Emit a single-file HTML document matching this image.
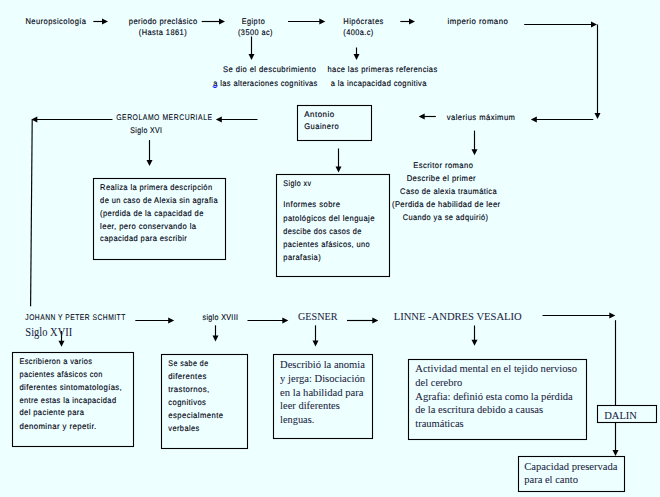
<!DOCTYPE html><html><head><meta charset="utf-8"><style>html,body{margin:0;padding:0;background:#edffff;}svg{display:block;}</style></head><body>
<svg width="660" height="497" viewBox="0 0 660 497">
<rect x="0" y="0" width="660" height="497" fill="#edffff"/>
<rect x="297.5" y="105.5" width="74" height="35" fill="none" stroke="#000000" stroke-width="1.10"/>
<rect x="93.5" y="178.5" width="132" height="81" fill="none" stroke="#000000" stroke-width="1.10"/>
<rect x="276.5" y="174.5" width="113" height="102" fill="none" stroke="#000000" stroke-width="1.10"/>
<rect x="12.5" y="352.5" width="121" height="94" fill="none" stroke="#000000" stroke-width="1.10"/>
<rect x="161.5" y="354.5" width="86" height="94" fill="none" stroke="#000000" stroke-width="1.10"/>
<rect x="273.5" y="354.5" width="99" height="84" fill="none" stroke="#000000" stroke-width="1.10"/>
<rect x="408.5" y="359.5" width="178" height="80" fill="none" stroke="#000000" stroke-width="1.10"/>
<rect x="597.5" y="405.5" width="59" height="17" fill="none" stroke="#000000" stroke-width="1.10"/>
<rect x="518.5" y="456.5" width="106" height="35" fill="none" stroke="#000000" stroke-width="1.10"/>
<line x1="93.30" y1="21.50" x2="103.00" y2="21.50" stroke="#000000" stroke-width="1.15"/>
<polygon points="108.00,21.50 102.00,24.50 102.00,18.50" fill="#000000"/>
<line x1="201.70" y1="21.50" x2="220.00" y2="21.50" stroke="#000000" stroke-width="1.15"/>
<polygon points="225.00,21.50 219.00,24.50 219.00,18.50" fill="#000000"/>
<line x1="288.00" y1="21.50" x2="320.30" y2="21.50" stroke="#000000" stroke-width="1.15"/>
<polygon points="325.30,21.50 319.30,24.50 319.30,18.50" fill="#000000"/>
<line x1="400.30" y1="21.50" x2="410.00" y2="21.50" stroke="#000000" stroke-width="1.15"/>
<polygon points="415.00,21.50 409.00,24.50 409.00,18.50" fill="#000000"/>
<line x1="524.20" y1="24.50" x2="592.00" y2="24.50" stroke="#000000" stroke-width="1.15"/>
<polygon points="597.00,24.50 591.00,27.50 591.00,21.50" fill="#000000"/>
<line x1="597.50" y1="24.50" x2="597.50" y2="114.00" stroke="#000000" stroke-width="1.15"/>
<polygon points="597.50,119.00 594.50,113.00 600.50,113.00" fill="#000000"/>
<line x1="593.30" y1="119.50" x2="535.80" y2="119.50" stroke="#000000" stroke-width="1.15"/>
<polygon points="530.80,119.50 536.80,116.50 536.80,122.50" fill="#000000"/>
<line x1="435.80" y1="116.50" x2="423.70" y2="116.50" stroke="#000000" stroke-width="1.15"/>
<polygon points="418.70,116.50 424.70,113.50 424.70,119.50" fill="#000000"/>
<line x1="257.50" y1="119.50" x2="220.80" y2="119.50" stroke="#000000" stroke-width="1.15"/>
<polygon points="215.80,119.50 221.80,116.50 221.80,122.50" fill="#000000"/>
<line x1="112.50" y1="119.50" x2="36.30" y2="119.50" stroke="#000000" stroke-width="1.15"/>
<polygon points="31.30,119.50 37.30,116.50 37.30,122.50" fill="#000000"/>
<line x1="251.50" y1="36.50" x2="251.50" y2="55.00" stroke="#000000" stroke-width="1.15"/>
<polygon points="251.50,60.00 248.50,54.00 254.50,54.00" fill="#000000"/>
<line x1="356.50" y1="47.50" x2="356.50" y2="55.10" stroke="#000000" stroke-width="1.15"/>
<polygon points="356.50,60.10 353.50,54.10 359.50,54.10" fill="#000000"/>
<line x1="149.50" y1="140.10" x2="149.50" y2="161.00" stroke="#000000" stroke-width="1.15"/>
<polygon points="149.50,166.00 146.50,160.00 152.50,160.00" fill="#000000"/>
<line x1="338.50" y1="148.50" x2="338.50" y2="167.50" stroke="#000000" stroke-width="1.15"/>
<polygon points="338.50,172.50 335.50,166.50 341.50,166.50" fill="#000000"/>
<line x1="474.50" y1="130.60" x2="474.50" y2="150.20" stroke="#000000" stroke-width="1.15"/>
<polygon points="474.50,155.20 471.50,149.20 477.50,149.20" fill="#000000"/>
<line x1="135.30" y1="320.50" x2="169.20" y2="320.50" stroke="#000000" stroke-width="1.15"/>
<polygon points="174.20,320.50 168.20,323.50 168.20,317.50" fill="#000000"/>
<line x1="247.50" y1="320.50" x2="283.30" y2="320.50" stroke="#000000" stroke-width="1.15"/>
<polygon points="288.30,320.50 282.30,323.50 282.30,317.50" fill="#000000"/>
<line x1="347.00" y1="320.50" x2="373.30" y2="320.50" stroke="#000000" stroke-width="1.15"/>
<polygon points="378.30,320.50 372.30,323.50 372.30,317.50" fill="#000000"/>
<line x1="542.50" y1="315.50" x2="610.30" y2="315.50" stroke="#000000" stroke-width="1.15"/>
<polygon points="615.30,315.50 609.30,318.50 609.30,312.50" fill="#000000"/>
<line x1="61.50" y1="331.00" x2="61.50" y2="341.70" stroke="#000000" stroke-width="1.15"/>
<polygon points="61.50,346.70 58.50,340.70 64.50,340.70" fill="#000000"/>
<line x1="215.50" y1="325.30" x2="215.50" y2="336.50" stroke="#000000" stroke-width="1.15"/>
<polygon points="215.50,341.50 212.50,335.50 218.50,335.50" fill="#000000"/>
<line x1="315.50" y1="325.30" x2="315.50" y2="341.50" stroke="#000000" stroke-width="1.15"/>
<polygon points="315.50,346.50 312.50,340.50 318.50,340.50" fill="#000000"/>
<line x1="474.50" y1="325.50" x2="474.50" y2="340.80" stroke="#000000" stroke-width="1.15"/>
<polygon points="474.50,345.80 471.50,339.80 477.50,339.80" fill="#000000"/>
<line x1="615.50" y1="320.20" x2="615.50" y2="405.70" stroke="#000000" stroke-width="1.15"/>
<line x1="615.50" y1="422.30" x2="615.50" y2="451.00" stroke="#000000" stroke-width="1.15"/>
<polygon points="615.50,456.00 612.50,450.00 618.50,450.00" fill="#000000"/>
<line x1="32.2" y1="119.4" x2="30.6" y2="306.3" stroke="#000000" stroke-width="1.15"/>
<text transform="translate(25.50 24.00) scale(0.919 1)" x="0" y="0" textLength="65.84" lengthAdjust="spacing" text-rendering="geometricPrecision" font-family="Liberation Sans, sans-serif" font-size="8.20" fill="#000010" stroke="#000010" stroke-width="0.13">Neuropsicología</text>
<text transform="translate(128.80 24.00) scale(0.925 1)" x="0" y="0" textLength="73.94" lengthAdjust="spacing" text-rendering="geometricPrecision" font-family="Liberation Sans, sans-serif" font-size="8.20" fill="#000010" stroke="#000010" stroke-width="0.13">periodo preclásico</text>
<text transform="translate(138.80 34.50) scale(0.909 1)" x="0" y="0" textLength="52.67" lengthAdjust="spacing" text-rendering="geometricPrecision" font-family="Liberation Sans, sans-serif" font-size="8.20" fill="#000010" stroke="#000010" stroke-width="0.13">(Hasta 1861)</text>
<text transform="translate(241.70 24.00) scale(0.890 1)" x="0" y="0" textLength="25.83" lengthAdjust="spacing" text-rendering="geometricPrecision" font-family="Liberation Sans, sans-serif" font-size="8.20" fill="#000010" stroke="#000010" stroke-width="0.13">Egipto</text>
<text transform="translate(238.00 34.50) scale(0.896 1)" x="0" y="0" textLength="38.49" lengthAdjust="spacing" text-rendering="geometricPrecision" font-family="Liberation Sans, sans-serif" font-size="8.20" fill="#000010" stroke="#000010" stroke-width="0.13">(3500 ac)</text>
<text transform="translate(343.30 24.00) scale(0.918 1)" x="0" y="0" textLength="43.55" lengthAdjust="spacing" text-rendering="geometricPrecision" font-family="Liberation Sans, sans-serif" font-size="8.20" fill="#000010" stroke="#000010" stroke-width="0.13">Hipócrates</text>
<text transform="translate(343.30 34.50) scale(0.898 1)" x="0" y="0" textLength="33.42" lengthAdjust="spacing" text-rendering="geometricPrecision" font-family="Liberation Sans, sans-serif" font-size="8.20" fill="#000010" stroke="#000010" stroke-width="0.13">(400a.c)</text>
<text transform="translate(447.50 24.00) scale(0.953 1)" x="0" y="0" textLength="63.30" lengthAdjust="spacing" text-rendering="geometricPrecision" font-family="Liberation Sans, sans-serif" font-size="8.20" fill="#000010" stroke="#000010" stroke-width="0.13">imperio romano</text>
<text transform="translate(223.10 72.00) scale(0.930 1)" x="0" y="0" textLength="99.77" lengthAdjust="spacing" text-rendering="geometricPrecision" font-family="Liberation Sans, sans-serif" font-size="8.20" fill="#000010" stroke="#000010" stroke-width="0.13">Se dio el descubrimiento</text>
<text transform="translate(213.30 85.70) scale(0.913 1)" x="0" y="0" textLength="113.95" lengthAdjust="spacing" text-rendering="geometricPrecision" font-family="Liberation Sans, sans-serif" font-size="8.20" fill="#000010" stroke="#000010" stroke-width="0.13">a las alteraciones cognitivas</text>
<text transform="translate(327.50 72.00) scale(0.918 1)" x="0" y="0" textLength="119.51" lengthAdjust="spacing" text-rendering="geometricPrecision" font-family="Liberation Sans, sans-serif" font-size="8.20" fill="#000010" stroke="#000010" stroke-width="0.13">hace las primeras referencias</text>
<text transform="translate(330.80 85.70) scale(0.916 1)" x="0" y="0" textLength="104.34" lengthAdjust="spacing" text-rendering="geometricPrecision" font-family="Liberation Sans, sans-serif" font-size="8.20" fill="#000010" stroke="#000010" stroke-width="0.13">a la incapacidad cognitiva</text>
<text transform="translate(446.70 119.80) scale(0.930 1)" x="0" y="0" textLength="73.41" lengthAdjust="spacing" text-rendering="geometricPrecision" font-family="Liberation Sans, sans-serif" font-size="8.20" fill="#000010" stroke="#000010" stroke-width="0.13">valerius máximum</text>
<text transform="translate(304.20 116.80) scale(0.971 1)" x="0" y="0" textLength="30.90" lengthAdjust="spacing" text-rendering="geometricPrecision" font-family="Liberation Sans, sans-serif" font-size="8.20" fill="#000010" stroke="#000010" stroke-width="0.13">Antonio</text>
<text transform="translate(304.20 129.30) scale(0.920 1)" x="0" y="0" textLength="37.48" lengthAdjust="spacing" text-rendering="geometricPrecision" font-family="Liberation Sans, sans-serif" font-size="8.20" fill="#000010" stroke="#000010" stroke-width="0.13">Guainero</text>
<text transform="translate(116.20 119.80) scale(0.834 1)" x="0" y="0" textLength="114.92" lengthAdjust="spacing" text-rendering="geometricPrecision" font-family="Liberation Sans, sans-serif" font-size="8.20" fill="#000010" stroke="#000010" stroke-width="0.07">GEROLAMO MERCURIALE</text>
<text transform="translate(130.30 133.20) scale(0.846 1)" x="0" y="0" textLength="37.48" lengthAdjust="spacing" text-rendering="geometricPrecision" font-family="Liberation Sans, sans-serif" font-size="8.20" fill="#000010" stroke="#000010" stroke-width="0.13">Siglo XVI</text>
<text transform="translate(100.10 189.80) scale(0.918 1)" x="0" y="0" textLength="122.04" lengthAdjust="spacing" text-rendering="geometricPrecision" font-family="Liberation Sans, sans-serif" font-size="8.20" fill="#000010" stroke="#000010" stroke-width="0.13">Realiza la primera descripción</text>
<text transform="translate(100.10 202.50) scale(0.913 1)" x="0" y="0" textLength="128.66" lengthAdjust="spacing" text-rendering="geometricPrecision" font-family="Liberation Sans, sans-serif" font-size="8.20" fill="#000010" stroke="#000010" stroke-width="0.13">de un caso de Alexia sin agrafia</text>
<text transform="translate(100.10 215.70) scale(0.918 1)" x="0" y="0" textLength="112.45" lengthAdjust="spacing" text-rendering="geometricPrecision" font-family="Liberation Sans, sans-serif" font-size="8.20" fill="#000010" stroke="#000010" stroke-width="0.13">(perdida de la capacidad de</text>
<text transform="translate(100.10 228.70) scale(0.938 1)" x="0" y="0" textLength="102.31" lengthAdjust="spacing" text-rendering="geometricPrecision" font-family="Liberation Sans, sans-serif" font-size="8.20" fill="#000010" stroke="#000010" stroke-width="0.13">leer, pero conservando la</text>
<text transform="translate(100.10 241.40) scale(0.921 1)" x="0" y="0" textLength="94.20" lengthAdjust="spacing" text-rendering="geometricPrecision" font-family="Liberation Sans, sans-serif" font-size="8.20" fill="#000010" stroke="#000010" stroke-width="0.13">capacidad para escribir</text>
<text transform="translate(283.30 186.30) scale(0.871 1)" x="0" y="0" textLength="31.90" lengthAdjust="spacing" text-rendering="geometricPrecision" font-family="Liberation Sans, sans-serif" font-size="8.20" fill="#000010" stroke="#000010" stroke-width="0.13">Siglo xv</text>
<text transform="translate(283.30 206.80) scale(0.935 1)" x="0" y="0" textLength="60.77" lengthAdjust="spacing" text-rendering="geometricPrecision" font-family="Liberation Sans, sans-serif" font-size="8.20" fill="#000010" stroke="#000010" stroke-width="0.13">Informes sobre</text>
<text transform="translate(283.30 220.60) scale(0.932 1)" x="0" y="0" textLength="97.77" lengthAdjust="spacing" text-rendering="geometricPrecision" font-family="Liberation Sans, sans-serif" font-size="8.20" fill="#000010" stroke="#000010" stroke-width="0.13">patológicos del lenguaje</text>
<text transform="translate(283.30 233.90) scale(0.890 1)" x="0" y="0" textLength="87.62" lengthAdjust="spacing" text-rendering="geometricPrecision" font-family="Liberation Sans, sans-serif" font-size="8.20" fill="#000010" stroke="#000010" stroke-width="0.13">descibe dos casos de</text>
<text transform="translate(283.30 247.20) scale(0.908 1)" x="0" y="0" textLength="95.22" lengthAdjust="spacing" text-rendering="geometricPrecision" font-family="Liberation Sans, sans-serif" font-size="8.20" fill="#000010" stroke="#000010" stroke-width="0.13">pacientes afásicos, uno</text>
<text transform="translate(283.30 260.00) scale(0.923 1)" x="0" y="0" textLength="40.52" lengthAdjust="spacing" text-rendering="geometricPrecision" font-family="Liberation Sans, sans-serif" font-size="8.20" fill="#000010" stroke="#000010" stroke-width="0.13">parafasia)</text>
<text transform="translate(413.20 167.90) scale(0.928 1)" x="0" y="0" textLength="64.30" lengthAdjust="spacing" text-rendering="geometricPrecision" font-family="Liberation Sans, sans-serif" font-size="8.20" fill="#000010" stroke="#000010" stroke-width="0.13">Escritor romano</text>
<text transform="translate(406.70 181.00) scale(0.932 1)" x="0" y="0" textLength="73.92" lengthAdjust="spacing" text-rendering="geometricPrecision" font-family="Liberation Sans, sans-serif" font-size="8.20" fill="#000010" stroke="#000010" stroke-width="0.13">Describe el primer</text>
<text transform="translate(400.10 194.00) scale(0.917 1)" x="0" y="0" textLength="105.34" lengthAdjust="spacing" text-rendering="geometricPrecision" font-family="Liberation Sans, sans-serif" font-size="8.20" fill="#000010" stroke="#000010" stroke-width="0.13">Caso de alexia traumática</text>
<text transform="translate(392.00 206.50) scale(0.928 1)" x="0" y="0" textLength="116.50" lengthAdjust="spacing" text-rendering="geometricPrecision" font-family="Liberation Sans, sans-serif" font-size="8.20" fill="#000010" stroke="#000010" stroke-width="0.13">(Perdida de habilidad de leer</text>
<text transform="translate(402.70 219.60) scale(0.905 1)" x="0" y="0" textLength="94.21" lengthAdjust="spacing" text-rendering="geometricPrecision" font-family="Liberation Sans, sans-serif" font-size="8.20" fill="#000010" stroke="#000010" stroke-width="0.13">Cuando ya se adquirió)</text>
<text transform="translate(25.30 320.00) scale(0.822 1)" x="0" y="0" textLength="121.67" lengthAdjust="spacing" text-rendering="geometricPrecision" font-family="Liberation Sans, sans-serif" font-size="8.20" fill="#000010" stroke="#000010" stroke-width="0.07">JOHANN Y PETER SCHMITT</text>
<text transform="translate(202.50 319.70) scale(0.865 1)" x="0" y="0" textLength="41.02" lengthAdjust="spacing" text-rendering="geometricPrecision" font-family="Liberation Sans, sans-serif" font-size="8.20" fill="#000010" stroke="#000010" stroke-width="0.13">siglo XVIII</text>
<text transform="translate(19.40 363.80) scale(0.907 1)" x="0" y="0" textLength="80.01" lengthAdjust="spacing" text-rendering="geometricPrecision" font-family="Liberation Sans, sans-serif" font-size="8.20" fill="#000010" stroke="#000010" stroke-width="0.13">Escribieron a varios</text>
<text transform="translate(19.40 376.60) scale(0.900 1)" x="0" y="0" textLength="92.18" lengthAdjust="spacing" text-rendering="geometricPrecision" font-family="Liberation Sans, sans-serif" font-size="8.20" fill="#000010" stroke="#000010" stroke-width="0.13">pacientes afásicos con</text>
<text transform="translate(19.40 389.70) scale(0.940 1)" x="0" y="0" textLength="108.89" lengthAdjust="spacing" text-rendering="geometricPrecision" font-family="Liberation Sans, sans-serif" font-size="8.20" fill="#000010" stroke="#000010" stroke-width="0.13">diferentes sintomatologías,</text>
<text transform="translate(19.40 402.50) scale(0.913 1)" x="0" y="0" textLength="105.86" lengthAdjust="spacing" text-rendering="geometricPrecision" font-family="Liberation Sans, sans-serif" font-size="8.20" fill="#000010" stroke="#000010" stroke-width="0.13">entre estas la incapacidad</text>
<text transform="translate(19.40 415.40) scale(0.924 1)" x="0" y="0" textLength="69.90" lengthAdjust="spacing" text-rendering="geometricPrecision" font-family="Liberation Sans, sans-serif" font-size="8.20" fill="#000010" stroke="#000010" stroke-width="0.13">del paciente para</text>
<text transform="translate(19.40 428.60) scale(0.954 1)" x="0" y="0" textLength="80.52" lengthAdjust="spacing" text-rendering="geometricPrecision" font-family="Liberation Sans, sans-serif" font-size="8.20" fill="#000010" stroke="#000010" stroke-width="0.13">denominar y repetir.</text>
<text transform="translate(168.30 366.00) scale(0.863 1)" x="0" y="0" textLength="46.10" lengthAdjust="spacing" text-rendering="geometricPrecision" font-family="Liberation Sans, sans-serif" font-size="8.20" fill="#000010" stroke="#000010" stroke-width="0.13">Se sabe de</text>
<text transform="translate(168.30 379.30) scale(0.950 1)" x="0" y="0" textLength="40.01" lengthAdjust="spacing" text-rendering="geometricPrecision" font-family="Liberation Sans, sans-serif" font-size="8.20" fill="#000010" stroke="#000010" stroke-width="0.13">diferentes</text>
<text transform="translate(168.30 391.90) scale(0.950 1)" x="0" y="0" textLength="43.04" lengthAdjust="spacing" text-rendering="geometricPrecision" font-family="Liberation Sans, sans-serif" font-size="8.20" fill="#000010" stroke="#000010" stroke-width="0.13">trastornos,</text>
<text transform="translate(168.30 404.80) scale(0.928 1)" x="0" y="0" textLength="40.52" lengthAdjust="spacing" text-rendering="geometricPrecision" font-family="Liberation Sans, sans-serif" font-size="8.20" fill="#000010" stroke="#000010" stroke-width="0.13">cognitivos</text>
<text transform="translate(168.30 418.00) scale(0.931 1)" x="0" y="0" textLength="58.75" lengthAdjust="spacing" text-rendering="geometricPrecision" font-family="Liberation Sans, sans-serif" font-size="8.20" fill="#000010" stroke="#000010" stroke-width="0.13">especialmente</text>
<text transform="translate(168.30 430.90) scale(0.900 1)" x="0" y="0" textLength="34.44" lengthAdjust="spacing" text-rendering="geometricPrecision" font-family="Liberation Sans, sans-serif" font-size="8.20" fill="#000010" stroke="#000010" stroke-width="0.13">verbales</text>
<text x="25.30" y="335.80" textLength="46.90" lengthAdjust="spacingAndGlyphs" font-family="Liberation Serif, serif" font-size="12.06" fill="#1a2240" stroke="#1a2240" stroke-width="0.05">Siglo XVII</text>
<text x="298.00" y="319.70" textLength="39.50" lengthAdjust="spacingAndGlyphs" font-family="Liberation Serif, serif" font-size="11.34" fill="#1a2240" stroke="#1a2240" stroke-width="0.05">GESNER</text>
<text x="393.70" y="319.50" textLength="128.00" lengthAdjust="spacingAndGlyphs" font-family="Liberation Serif, serif" font-size="11.34" fill="#1a2240" stroke="#1a2240" stroke-width="0.05">LINNE -ANDRES VESALIO</text>
<text x="280.10" y="367.70" textLength="84.80" lengthAdjust="spacingAndGlyphs" font-family="Liberation Serif, serif" font-size="11.02" fill="#1a2240" stroke="#1a2240" stroke-width="0.05">Describió la anomia</text>
<text x="280.10" y="381.80" textLength="84.90" lengthAdjust="spacingAndGlyphs" font-family="Liberation Serif, serif" font-size="11.02" fill="#1a2240" stroke="#1a2240" stroke-width="0.05">y jerga: Disociación</text>
<text x="280.10" y="395.70" textLength="83.40" lengthAdjust="spacingAndGlyphs" font-family="Liberation Serif, serif" font-size="11.02" fill="#1a2240" stroke="#1a2240" stroke-width="0.05">en la habilidad para</text>
<text x="280.10" y="409.30" textLength="59.70" lengthAdjust="spacingAndGlyphs" font-family="Liberation Serif, serif" font-size="11.02" fill="#1a2240" stroke="#1a2240" stroke-width="0.05">leer diferentes</text>
<text x="280.10" y="423.00" textLength="34.20" lengthAdjust="spacingAndGlyphs" font-family="Liberation Serif, serif" font-size="11.02" fill="#1a2240" stroke="#1a2240" stroke-width="0.05">lenguas.</text>
<text x="415.30" y="371.90" textLength="161.70" lengthAdjust="spacingAndGlyphs" font-family="Liberation Serif, serif" font-size="11.02" fill="#1a2240" stroke="#1a2240" stroke-width="0.05">Actividad mental en el tejido nervioso</text>
<text x="415.30" y="385.60" textLength="46.90" lengthAdjust="spacingAndGlyphs" font-family="Liberation Serif, serif" font-size="11.02" fill="#1a2240" stroke="#1a2240" stroke-width="0.05">del cerebro</text>
<text x="415.30" y="399.60" textLength="157.50" lengthAdjust="spacingAndGlyphs" font-family="Liberation Serif, serif" font-size="11.02" fill="#1a2240" stroke="#1a2240" stroke-width="0.05">Agrafia: definió esta como la pérdida</text>
<text x="415.30" y="413.40" textLength="127.80" lengthAdjust="spacingAndGlyphs" font-family="Liberation Serif, serif" font-size="11.02" fill="#1a2240" stroke="#1a2240" stroke-width="0.05">de la escritura debido a causas</text>
<text x="415.30" y="427.00" textLength="48.40" lengthAdjust="spacingAndGlyphs" font-family="Liberation Serif, serif" font-size="11.02" fill="#1a2240" stroke="#1a2240" stroke-width="0.05">traumáticas</text>
<text x="604.20" y="418.80" textLength="32.80" lengthAdjust="spacingAndGlyphs" font-family="Liberation Serif, serif" font-size="11.34" fill="#1a2240" stroke="#1a2240" stroke-width="0.05">DALIN</text>
<text x="524.20" y="469.60" textLength="93.40" lengthAdjust="spacingAndGlyphs" font-family="Liberation Serif, serif" font-size="11.02" fill="#1a2240" stroke="#1a2240" stroke-width="0.05">Capacidad preservada</text>
<text x="524.20" y="483.20" textLength="53.80" lengthAdjust="spacingAndGlyphs" font-family="Liberation Serif, serif" font-size="11.02" fill="#1a2240" stroke="#1a2240" stroke-width="0.05">para el canto</text>
<ellipse cx="215.0" cy="86.6" rx="1.8" ry="1.0" fill="none" stroke="#1a1aff" stroke-width="1.0"/>
</svg></body></html>
